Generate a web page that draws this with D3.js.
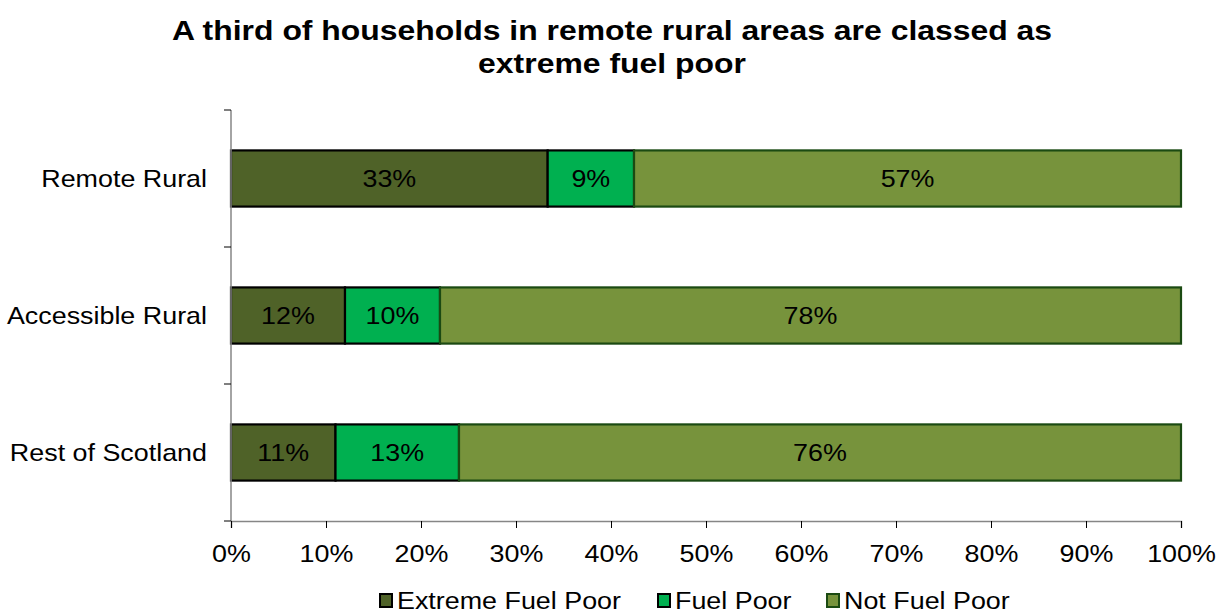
<!DOCTYPE html>
<html>
<head>
<meta charset="utf-8">
<script src="https://cdn.jsdelivr.net/npm/d3@7"></script>
<style>
  body { margin: 0; background: #fff; }
  svg { display: block; font-family: Arial, "Liberation Sans", sans-serif; }
</style>
</head>
<body>
<svg id="chart" width="1224" height="614"></svg>
<script>
// Household groups and their fuel poverty shares (%)
const categories = ["Remote Rural", "Accessible Rural", "Rest of Scotland"];
const seriesNames = ["Extreme Fuel Poor", "Fuel Poor", "Not Fuel Poor"];
const extremeFuelPoor = [33, 12, 11];
const fuelPoor = [9, 10, 13];
const notFuelPoor = [57, 78, 76];
const xTickValues = [0, 0.1, 0.2, 0.3, 0.4, 0.5, 0.6, 0.7, 0.8, 0.9, 1.0];
const titleLines = ["A third of households in remote rural areas are classed as", "extreme fuel poor"];

const fills = ["#4F6228", "#00B050", "#77933C"];
const strokes = ["#000000", "#000000", "#1B4A12"];

// Text is drawn slightly wide, as in the original export
const SX = 1.12;
const FS = 24;

const rows = categories.map((c, i) => ({
  category: c,
  "Extreme Fuel Poor": extremeFuelPoor[i],
  "Fuel Poor": fuelPoor[i],
  "Not Fuel Poor": notFuelPoor[i]
}));

const svg = d3.select("#chart");
const plotLeft = 231, plotRight = 1181, plotTop = 110, plotBottom = 521;

const x = d3.scaleLinear().domain([0, 1]).range([plotLeft, plotRight]);
const y = d3.scaleBand().domain(categories).range([plotTop, plotBottom])
  .paddingInner(0.59).paddingOuter(0.295);

function placeText(sel, px, py) {
  return sel.attr("transform", (d, i) => `translate(${px(d, i)},${py(d, i)}) scale(${SX},1)`);
}

// 100% stacked layout
const stack = d3.stack().keys(seriesNames).offset(d3.stackOffsetExpand);
const layers = stack(rows);

// Title
placeText(
  svg.append("g").selectAll("text").data(titleLines).join("text")
    .attr("text-anchor", "middle")
    .style("font-weight", "bold").style("font-size", "28.5px")
    .text(d => d),
  () => 612, (d, i) => 40 + i * 33);

// Bars
layers.forEach((layer, li) => {
  const g = svg.append("g");
  g.selectAll("rect")
    .data(layer)
    .join("rect")
    .attr("x", d => x(d[0]))
    .attr("y", d => y(d.data.category))
    .attr("width", d => x(d[1]) - x(d[0]))
    .attr("height", y.bandwidth())
    .attr("fill", fills[li])
    .attr("stroke", strokes[li])
    .attr("stroke-width", 2.2);
  placeText(
    g.selectAll("text").data(layer).join("text")
      .attr("dy", "0.35em")
      .attr("text-anchor", "middle")
      .style("font-size", FS + "px")
      .attr("fill", "#000")
      .text(d => d.data[layer.key] + "%"),
    d => (x(d[0]) + x(d[1])) / 2,
    d => y(d.data.category) + y.bandwidth() / 2);
});

// Y axis: line with ticks at band boundaries
const yAxis = svg.append("g");
yAxis.append("line")
  .attr("x1", plotLeft).attr("x2", plotLeft)
  .attr("y1", plotTop).attr("y2", plotBottom)
  .attr("stroke", "#868686").attr("stroke-width", 1.5);
const boundaries = [plotTop].concat(categories.map(c => y(c) + y.bandwidth() + y.step() * y.paddingInner() / 2));
yAxis.selectAll("line.tick")
  .data(boundaries)
  .join("line")
  .attr("class", "tick")
  .attr("x1", plotLeft - 7).attr("x2", plotLeft)
  .attr("y1", d => d).attr("y2", d => d)
  .attr("stroke", "#000").attr("stroke-width", 1);
placeText(
  yAxis.selectAll("text").data(categories).join("text")
    .attr("dy", "0.35em")
    .attr("text-anchor", "end")
    .style("font-size", FS + "px")
    .text(d => d),
  () => 207, d => y(d) + y.bandwidth() / 2);

// X axis
const xAxis = svg.append("g")
  .attr("transform", `translate(0,${plotBottom})`)
  .call(d3.axisBottom(x).tickValues(xTickValues).tickFormat(d3.format(".0%")).tickSize(7));
xAxis.select(".domain").attr("stroke", "#868686").attr("stroke-width", 1.5);
xAxis.selectAll(".tick line").attr("stroke", "#000");
xAxis.selectAll(".tick text")
  .attr("y", 0).attr("dy", 0)
  .attr("transform", `translate(0,41) scale(${SX},1)`)
  .style("font-size", FS + "px").attr("fill", "#000")
  .style("font-family", "Arial, 'Liberation Sans', sans-serif");

// Legend
const legendX = [380, 658, 827];
const legend = svg.append("g");
seriesNames.forEach((name, i) => {
  legend.append("rect")
    .attr("x", legendX[i]).attr("y", 594)
    .attr("width", 12).attr("height", 13)
    .attr("fill", fills[i]).attr("stroke", strokes[i]).attr("stroke-width", 2);
  legend.append("text")
    .attr("transform", `translate(${legendX[i] + 17},601) scale(${SX},1)`)
    .attr("dy", "0.35em")
    .style("font-size", FS + "px")
    .text(name);
});
</script>
</body>
</html>
